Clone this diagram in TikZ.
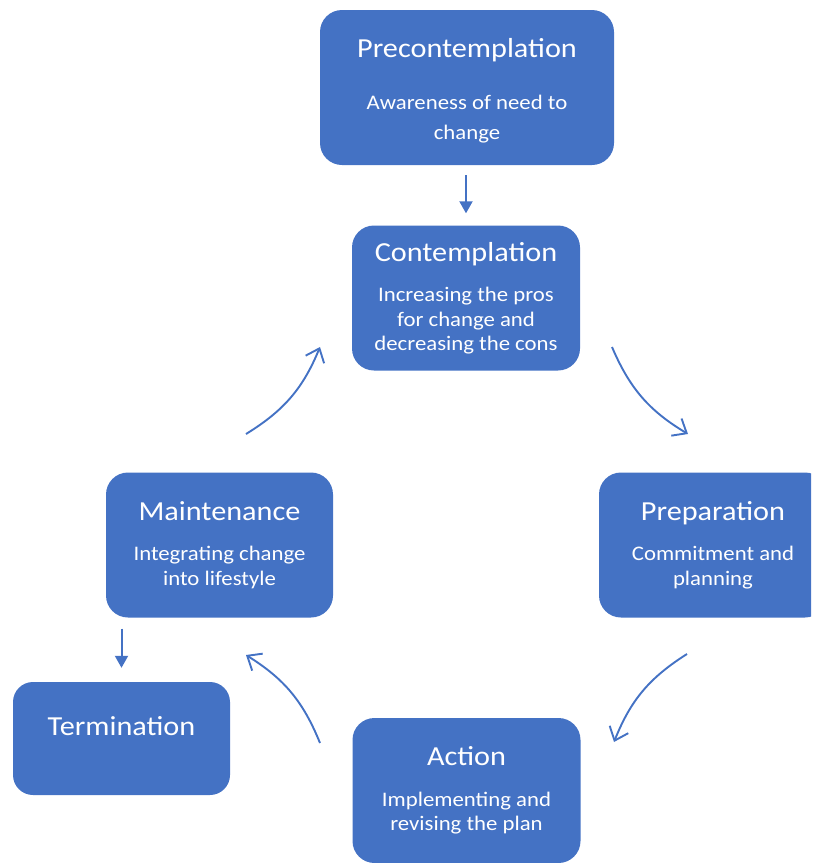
\documentclass[tikz,border=0pt]{standalone}
\usepackage{fontspec}
\setmainfont{Carlito}[FakeStretch=1.1]
\usetikzlibrary{arrows.meta}

\definecolor{stageblue}{HTML}{4472C4}
\newcommand{\stagetitle}[1]{{\fontsize{27.5}{30}\selectfont #1}}

\tikzset{
  stage/.style={fill=stageblue, rounded corners=22pt, text=white, align=center,
    inner sep=0pt, font=\fontsize{20.7}{24.5}\selectfont},
  downarrow/.style={draw=stageblue, line width=2pt, -{Triangle[length=12pt,width=13pt]}},
  cyclearrow/.style={draw=stageblue, line width=1.9pt, -{Straight Barb[length=12pt,width=20pt]}}
}

\begin{document}
\begin{tikzpicture}[x=1pt, y=-1pt]
\useasboundingbox (0,0) rectangle (817,863);
\clip (0,0) rectangle (811,863);

\node[stage, minimum width=294pt, minimum height=155pt] (pre) at (467,87.5)
  {\stagetitle{\rule{0pt}{25pt}Precontemplation}\\[28pt] Awareness of need to\\[5pt] change};
\node[stage, minimum width=228pt, minimum height=145pt] (con) at (466,298)
  {\stagetitle{Contemplation}\\[16pt] Increasing the pros\\ for change and\\ decreasing the cons};
\node[stage, minimum width=228pt, minimum height=145pt] (prep) at (713,545)
  {\stagetitle{Preparation}\\[16pt] Commitment and\\ planning};
\node[stage, minimum width=228pt, minimum height=145pt] (act) at (466.5,790.5)
  {\stagetitle{Action}\\[16pt] Implementing and\\ revising the plan};
\node[stage, minimum width=227pt, minimum height=145pt] (maint) at (219.5,545)
  {\stagetitle{Maintenance}\\[16pt] Integrating change\\ into lifestyle};
\node[stage, rounded corners=20pt, minimum width=217pt, minimum height=113pt, text depth=26pt] (term) at (121.5,738.5)
  {\stagetitle{Termination}};

\draw[downarrow, shorten <=10pt, shorten >=12pt] (pre.south -| con.north) -- (con.north);
\draw[downarrow, shorten <=11pt, shorten >=14pt] (maint.south -| term.north) -- (term.north);

\coordinate (c1a) at (612,347);
\coordinate (c1b) at (688,434);
\coordinate (c2a) at (687,654);
\coordinate (c2b) at (614,742);
\coordinate (c3a) at (320,743);
\coordinate (c3b) at (246,655);
\coordinate (c4a) at (246,434);
\coordinate (c4b) at (320,347);
\draw[cyclearrow] (c1a) to[bend right=18] (c1b);
\draw[cyclearrow] (c2a) to[bend right=18] (c2b);
\draw[cyclearrow] (c3a) to[bend right=18] (c3b);
\draw[cyclearrow] (c4a) to[bend right=18] (c4b);
\end{tikzpicture}
\end{document}
